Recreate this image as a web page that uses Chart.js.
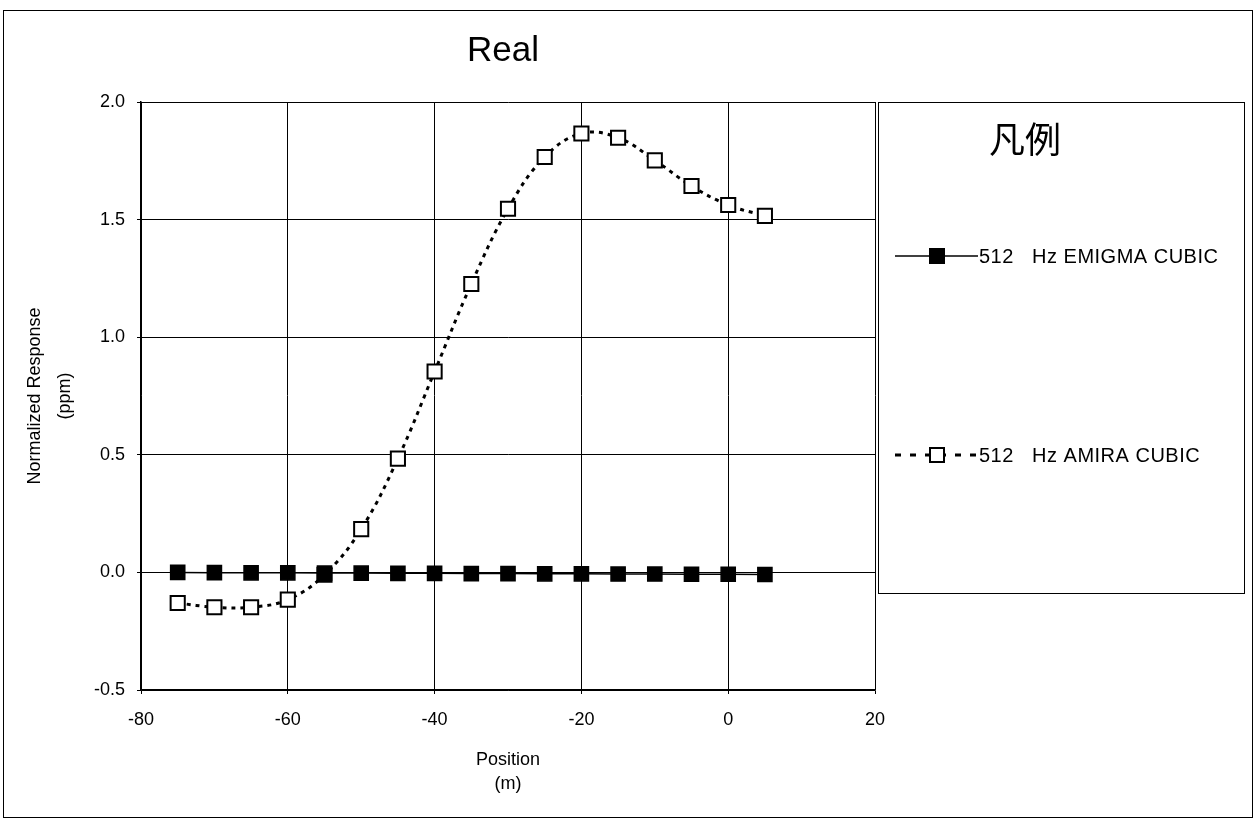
<!DOCTYPE html>
<html>
<head>
<meta charset="utf-8">
<script src="https://cdn.jsdelivr.net/npm/chart.js@4/dist/chart.umd.min.js"></script>
<style>
  body { margin: 0; background: #fff; }
  #wrap { width: 1257px; height: 820px; position: relative; }
</style>
</head>
<body>
<div id="wrap"><canvas id="chart"></canvas></div>
<script>
const positions = [-75, -70, -65, -60, -55, -50, -45, -40, -35, -30, -25, -20, -15, -10, -5, 0, 5];
const emigmaValues = [0.0, -0.001, -0.002, -0.002, -0.003, -0.003, -0.004, -0.004, -0.005, -0.005, -0.006, -0.006, -0.007, -0.007, -0.008, -0.008, -0.009];
const amiraValues = [-0.13, -0.148, -0.148, -0.116, -0.01, 0.184, 0.484, 0.854, 1.226, 1.546, 1.766, 1.866, 1.848, 1.752, 1.643, 1.562, 1.516];
const seriesLabels = ["512   Hz EMIGMA CUBIC", "512   Hz AMIRA CUBIC"];
const xTicks = [-80, -60, -40, -20, 0, 20];
const yTicks = [-0.5, 0.0, 0.5, 1.0, 1.5, 2.0];

const FONT = "Arial, 'Liberation Sans', sans-serif";

const toPoints = (vals) => positions.map((x, i) => ({ x: x, y: vals[i] }));

// outer frame, title and the boxed legend are drawn by hand
const framePlugin = {
  id: "frame",
  beforeDraw(chart) {
    const ctx = chart.ctx;
    ctx.save();
    ctx.fillStyle = "#fff";
    ctx.fillRect(0, 0, chart.width, chart.height);
    ctx.strokeStyle = "#000";
    ctx.lineWidth = 1;
    ctx.strokeRect(3.5, 10.5, 1249, 807);
    ctx.restore();
  },
  afterDraw(chart) {
    const ctx = chart.ctx;
    const area = chart.chartArea;
    ctx.save();
    ctx.fillStyle = "#000";
    ctx.textBaseline = "middle";
    ctx.textAlign = "center";
    ctx.font = "35px " + FONT;
    ctx.fillText("Real", (area.left + area.right) / 2 - 5, 51);

    const boxX = area.right + 3;
    const boxY = area.top;
    ctx.strokeStyle = "#000";
    ctx.lineWidth = 1;
    ctx.strokeRect(boxX + 0.5, boxY + 0.5, 366, 491);

    ctx.font = "36px 'Noto Sans CJK JP', sans-serif";
    ctx.fillText("凡例", boxX + 147, boxY + 37);

    const rows = [boxY + 154, boxY + 353];
    const legendDash = [[], [6, 9]];
    chart.data.datasets.forEach((ds, i) => {
      const y = rows[i];
      ctx.beginPath();
      ctx.setLineDash(legendDash[i]);
      ctx.lineWidth = ds.borderWidth;
      ctx.strokeStyle = ds.borderColor;
      ctx.moveTo(boxX + 17, y);
      ctx.lineTo(boxX + 100, y);
      ctx.stroke();
      ctx.setLineDash([]);
      ctx.fillStyle = ds.pointBackgroundColor;
      ctx.fillRect(boxX + 52, y - 7, 14, 14);
      ctx.lineWidth = 2;
      ctx.strokeStyle = "#000";
      ctx.strokeRect(boxX + 52, y - 7, 14, 14);
      ctx.fillStyle = "#000";
      ctx.font = "20px " + FONT;
      ctx.letterSpacing = "0.5px";
      ctx.textAlign = "left";
      ctx.fillText(ds.label, boxX + 101, y + 1);
      ctx.letterSpacing = "0px";
    });
    ctx.restore();
  }
};

new Chart(document.getElementById("chart"), {
  type: "line",
  data: {
    datasets: [
      {
        label: seriesLabels[0],
        data: toPoints(emigmaValues),
        borderColor: "#000",
        borderWidth: 1.5,
        pointStyle: "rect",
        pointRadius: 10,
        pointBackgroundColor: "#000",
        pointBorderColor: "#000",
        tension: 0
      },
      {
        label: seriesLabels[1],
        data: toPoints(amiraValues),
        borderColor: "#000",
        borderWidth: 3,
        borderDash: [4, 5],
        pointStyle: "rect",
        pointRadius: 10,
        pointBorderWidth: 2,
        pointBackgroundColor: "#fff",
        pointBorderColor: "#000",
        tension: 0.4
      }
    ]
  },
  options: {
    responsive: true,
    maintainAspectRatio: false,
    animation: false,
    layout: { padding: { left: 20, right: 382, top: 102, bottom: 0 } },
    plugins: {
      legend: { display: false },
      tooltip: { enabled: false },
      title: { display: false }
    },
    scales: {
      x: {
        type: "linear",
        min: -80,
        max: 20,
        afterBuildTicks: (s) => { s.ticks = xTicks.map(v => ({ value: v })); },
        afterFit: (s) => { s.height = 130; },
        ticks: { color: "#000", font: { family: FONT, size: 18 }, padding: 15, maxRotation: 0 },
        grid: { color: "#000", lineWidth: 1, tickLength: 4 },
        border: { color: "#000", width: 1.5 },
        title: {
          display: true,
          text: ["Position", "(m)"],
          color: "#000",
          font: { family: FONT, size: 18, lineHeight: 24 / 18 },
          padding: { top: 0, bottom: 24 }
        }
      },
      y: {
        min: -0.5,
        max: 2.0,
        afterBuildTicks: (s) => { s.ticks = yTicks.map(v => ({ value: v })); },
        afterFit: (s) => { s.width = 121; },
        ticks: {
          color: "#000",
          font: { family: FONT, size: 18 },
          padding: 12,
          callback: (v) => Number(v).toFixed(1)
        },
        grid: { color: "#000", lineWidth: 1, tickLength: 4 },
        border: { color: "#000", width: 1.5 },
        title: {
          display: true,
          text: ["Normalized Response", "(ppm)"],
          color: "#000",
          font: { family: FONT, size: 18, lineHeight: 30 / 18 },
          padding: { top: 0, bottom: 0 }
        }
      }
    }
  },
  plugins: [framePlugin]
});
</script>
</body>
</html>
